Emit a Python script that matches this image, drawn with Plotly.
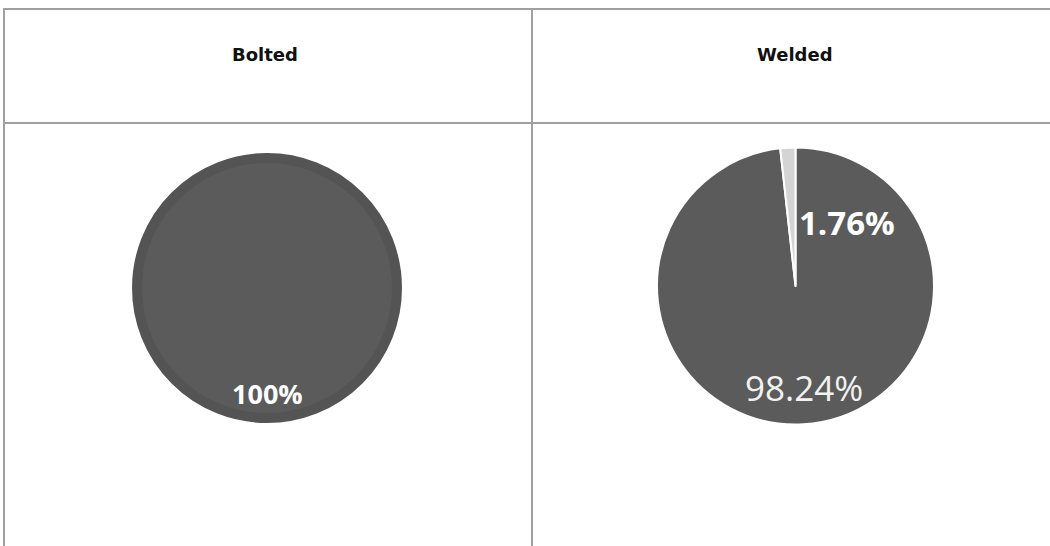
import plotly.graph_objects as go

W, H = 1050, 546

# Share of joints by connection type
bolted_labels = ["Bolted"]
bolted_values = [100.0]
welded_labels = ["Main", "Other"]
welded_values = [98.24, 1.76]
headers = ["Bolted", "Welded"]

DARK = "#5b5b5b"
RING = "#545454"
LIGHT = "#d4d4d4"
GRID = "#a0a0a0"


def px_x(x):
    return x / W


def px_y(y):
    return 1 - y / H


def pct(v, total):
    s = f"{v / total * 100:.2f}".rstrip("0").rstrip(".")
    return s + "%"


fig = go.Figure()

# Bolted: single full slice with a slightly darker rim
fig.add_trace(go.Pie(
    labels=bolted_labels, values=bolted_values, sort=False,
    direction="clockwise", rotation=0,
    marker=dict(colors=[DARK], line=dict(color=RING, width=10)),
    textinfo="none", hoverinfo="label+percent", showlegend=False,
    domain=dict(x=[px_x(137), px_x(397)], y=[px_y(418), px_y(158)]),
))

# Welded: main share plus a thin light wedge left of 12 o'clock
fig.add_trace(go.Pie(
    labels=welded_labels, values=welded_values, sort=False,
    direction="clockwise", rotation=0,
    marker=dict(colors=[DARK, LIGHT], line=dict(color="white", width=2)),
    textinfo="none", hoverinfo="label+percent", showlegend=False,
    domain=dict(x=[px_x(657), px_x(934)], y=[px_y(424.5), px_y(147.5)]),
))

tot_b = sum(bolted_values)
tot_w = sum(welded_values)
label_font = "Open Sans"


def note(text, x, y, size, color, family=label_font):
    return dict(text=text, x=px_x(x), y=px_y(y), xref="paper", yref="paper",
                xanchor="center", yanchor="middle", showarrow=False,
                font=dict(family=family, size=size, color=color))


annotations = [note(f"<b>{h}</b>", cx, 55, 18, "#111111", "DejaVu Sans")
               for h, cx in zip(headers, [265, 795])]
annotations += [
    note(f"<b>{pct(bolted_values[0], tot_b)}</b>", 267, 393, 27, "white"),
    note(f"<b>{pct(welded_values[1], tot_w)}</b>", 847, 222, 33, "white"),
    note(pct(welded_values[0], tot_w), 804, 387, 35, "#f2f2f2"),
]

# Table grid lines
line = dict(color=GRID, width=2)
shapes = [
    dict(type="line", xref="paper", yref="paper", x0=px_x(3), x1=1, y0=px_y(9), y1=px_y(9), line=line),
    dict(type="line", xref="paper", yref="paper", x0=px_x(3), x1=1, y0=px_y(123), y1=px_y(123), line=line),
    dict(type="line", xref="paper", yref="paper", x0=px_x(4), x1=px_x(4), y0=px_y(8), y1=0, line=line),
    dict(type="line", xref="paper", yref="paper", x0=px_x(532), x1=px_x(532), y0=px_y(8), y1=0, line=line),
]

fig.update_layout(
    width=W, height=H,
    margin=dict(l=0, r=0, t=0, b=0),
    paper_bgcolor="white", plot_bgcolor="white",
    annotations=annotations, shapes=shapes,
)

fig.write_html("out.html")
